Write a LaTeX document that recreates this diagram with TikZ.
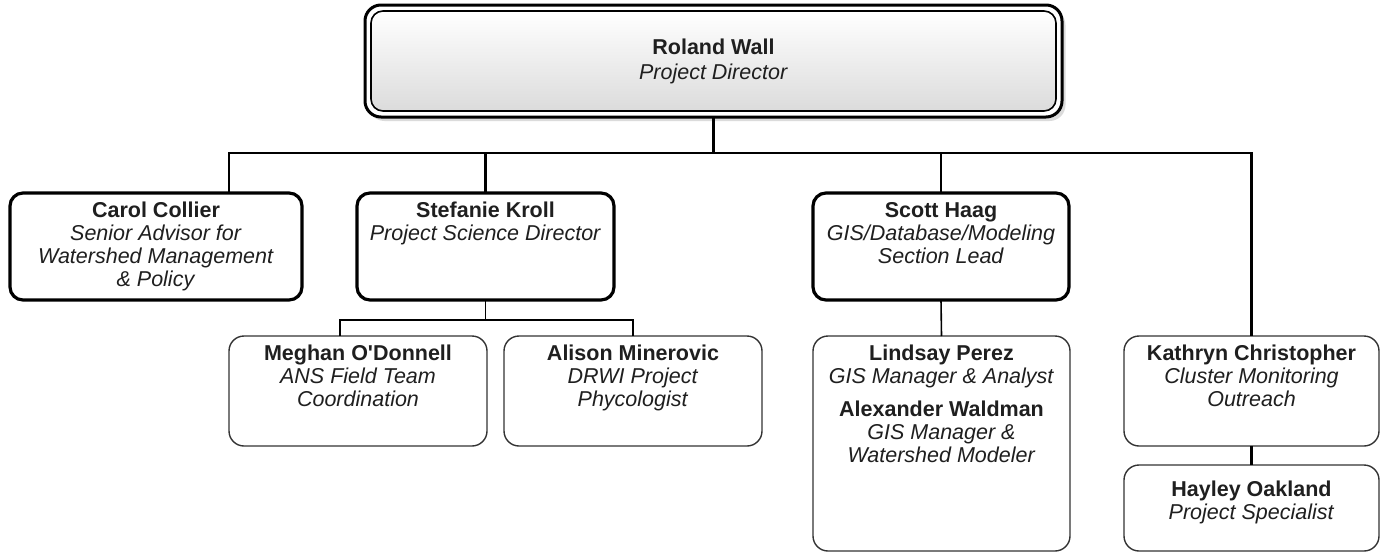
\documentclass[tikz,border=0pt]{standalone}
\usepackage{fontspec}
\setmainfont{Liberation Sans}[Ligatures=TeXOff]
\begin{document}
\begin{tikzpicture}[x=1pt,y=-1pt,
  every node/.style={inner sep=0pt, outer sep=0pt},
  thickbox/.style={draw=black, line width=3.2pt, rounded corners=13pt, fill=white},
  thinbox/.style={draw=black!80, line width=1.4pt, rounded corners=15pt, fill=white},
  nametext/.style={align=center, font=\fontsize{21.5}{23}\selectfont, text=black!88, anchor=north},
  thickline/.style={line width=2.6pt, line join=miter},
  thinline/.style={line width=1.6pt, line join=miter},
]
\useasboundingbox (0,0) rectangle (1383,554);

% ---- top box ----
\node[fill=black!14, rounded corners=16pt, minimum width=697pt, minimum height=112pt] (topsh) at (717,65) {};
\node[draw=black, line width=3pt, fill=white, rounded corners=16pt, minimum width=697pt, minimum height=112pt] (top) at (713.5,61) {};
\node[draw=black, line width=1.6pt, rounded corners=12pt, top color=white, bottom color=black!14, minimum width=685pt, minimum height=100pt] (topin) at (top.center) {};
\node[nametext, anchor=center, font=\fontsize{21.5}{25}\selectfont] (topt) at (top.center) {\textbf{Roland Wall}\\\textit{Project Director}};

% ---- second level ----
\node[thickbox, minimum width=292pt, minimum height=107pt] (carol) at (156,246.5) {};
\node[nametext] (carolt) at ([yshift=-9pt]carol.north) {\textbf{Carol Collier}\\\textit{Senior Advisor for}\\\textit{Watershed Management}\\\textit{\& Policy}};

\node[thickbox, minimum width=257pt, minimum height=107pt] (stef) at (485.5,246.5) {};
\node[nametext] (steft) at ([yshift=-9pt]stef.north) {\textbf{Stefanie Kroll}\\\textit{Project Science Director}};

\node[thickbox, minimum width=256pt, minimum height=107pt] (scott) at (941,246.5) {};
\node[nametext] (scottt) at ([yshift=-9pt]scott.north) {\textbf{Scott Haag}\\\textit{GIS/Database/Modeling}\\\textit{Section Lead}};

% ---- third level ----
\node[thinbox, minimum width=258pt, minimum height=110pt] (meghan) at (358,391) {};
\node[nametext] (meghant) at ([yshift=-9pt]meghan.north) {\textbf{Meghan O'Donnell}\\\textit{ANS Field Team}\\\textit{Coordination}};

\node[thinbox, minimum width=258pt, minimum height=110pt] (alison) at (633,391) {};
\node[nametext] (alisont) at ([yshift=-9pt]alison.north) {\textbf{Alison Minerovic}\\\textit{DRWI Project}\\\textit{Phycologist}};

\node[thinbox, minimum width=257pt, minimum height=215pt] (lindsay) at (941.5,443.5) {};
\node[nametext] (lindsayt) at ([yshift=-9pt]lindsay.north) {\textbf{Lindsay Perez}\\\textit{GIS Manager \& Analyst}\\[10pt]\textbf{Alexander Waldman}\\\textit{GIS Manager \&}\\\textit{Watershed Modeler}};

\node[thinbox, minimum width=255pt, minimum height=110pt] (kathryn) at (1251.5,391) {};
\node[nametext] (kathrynt) at ([yshift=-9pt]kathryn.north) {\textbf{Kathryn Christopher}\\\textit{Cluster Monitoring}\\\textit{Outreach}};

\node[thinbox, minimum width=255pt, minimum height=86pt] (hayley) at (1251.5,508) {};
\node[nametext] (hayleyt) at ([yshift=-16pt]hayley.north) {\textbf{Hayley Oakland}\\\textit{Project Specialist}};

% ---- connectors ----
\coordinate (busL) at (229,153);
\coordinate (sbL) at (340,320);
\draw[thickline] (busL |- carol.north) -- (busL) -- (kathryn.north |- busL) -- (kathryn.north);
\draw[thickline] (top.south) -- (top.south |- busL);
\draw[thickline] (stef.north) -- (stef.north |- busL);
\draw[thickline] (scott.north) -- (scott.north |- busL);
\draw[thinline] (stef.south) -- (stef.south |- sbL);
\draw[thinline] (sbL |- meghan.north) -- (sbL) -- (alison.north |- sbL) -- (alison.north);
\draw[thinline] (scott.south) -- (lindsay.north);
\draw[thickline] (kathryn.south) -- (hayley.north);
\end{tikzpicture}
\end{document}
